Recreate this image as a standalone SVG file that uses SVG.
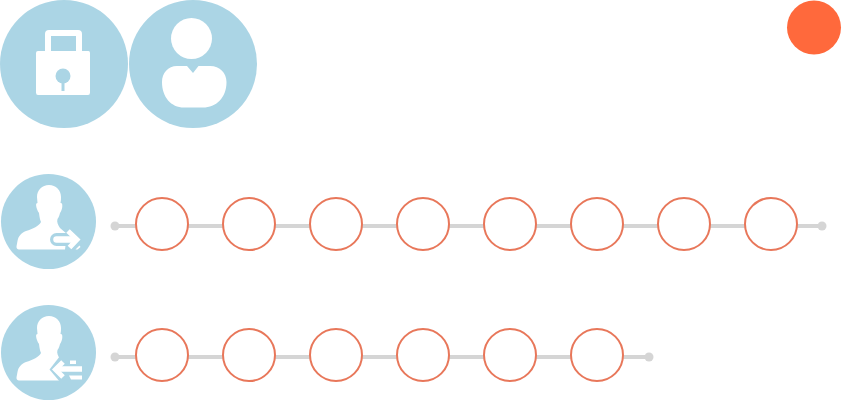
<svg xmlns="http://www.w3.org/2000/svg" width="842" height="400" viewBox="0 0 842 400">
<defs>
<style>
.bg{fill:#abd5e5}
.w{fill:#fff}
.track{stroke:#d5d5d5;stroke-width:4;fill:none}
.dot{fill:#d5d5d5}
.step{fill:#fff;stroke:#e8775a;stroke-width:2}
.ol{fill:none;stroke:#abd5e5;stroke-linejoin:round}
.ln{fill:none;stroke:#fff;stroke-linejoin:miter}
</style>
<path id="person" class="w" d="M49 185C42 185 37 190 37 197C37 199 37.500 201 37.500 203C35.500 203 36 206 37 209C37.500 211 38.500 212 39 213C39.500 217 40 220 41 222C39 226 33 229 26 231C21 233 18.500 236 17.500 241C17 244 16.500 246 16.500 247C16.500 248.500 17.500 249.500 19 249.500L65 249.500L67 234L60 228C58 225 56.500 222 57.500 219C59 217 59.500 215 60 213C61.500 211 63 207 62 203.500C61 203 60.500 203 60.500 203C61 201 61 199 61 197C61 190 56 185 49 185Z"/>
</defs>
<g id="connectors">
<path class="track" d="M115 226H822"/>
<path class="track" d="M115 357H649"/>
</g>
<g id="lock-icon">
<circle class="bg" cx="64" cy="64" r="64"/>
<path class="w" fill-rule="evenodd" d="M38 51H45V34Q45 30 49 30H78Q82 30 82 34V51H88.500Q90 51 90 53V92.500Q90 95 88 95H38Q36 95 36 92.500V53Q36 51 38 51ZM51 51H76V36H51Z"/>
<circle class="bg" cx="63" cy="76" r="7.500"/>
<rect class="bg" x="61.500" y="78" width="3" height="13"/>
</g>
<g id="user-icon">
<circle class="bg" cx="193" cy="64" r="64"/>
<circle class="w" cx="191.500" cy="38.500" r="20.500"/>
<path class="w" d="M177 66H187L193 73L198.500 66H210C220 66 226.500 73 226.500 82C226.500 98 216 107.500 203 107.500H184C171 107.500 162 97 162 82C162 73 168 66 177 66Z"/>
</g>
<g id="status-dot"><circle cx="814" cy="27.500" r="27" fill="#ff693c"/></g>
<g id="outgoing-icon">
<circle class="bg" cx="48.500" cy="221.500" r="47.500"/>
<use href="#person"/>
<path class="ol" stroke-width="13" stroke-linecap="round" d="M56.500 239.500H72"/>
<path class="ol" stroke-width="9" d="M68 231L77 239.500L69.500 247.500"/>
<path class="ln" stroke-width="6.500" stroke-linecap="round" d="M56.500 239.500H74"/>
<path class="ln" stroke-width="5" d="M68 231L77 239.500L69.500 247.500"/>
<path class="w" d="M75.500 249.500L79.500 245.500L80.500 247L77.500 249.500Z"/>
</g>
<g id="incoming-icon">
<circle class="bg" cx="48.500" cy="352.500" r="47.500"/>
<use href="#person" y="131"/>
<path class="bg" d="M60 356H84V382H60L49.500 369.500Z"/>
<path class="ln" stroke-width="5" d="M63 362L55.500 369.500L63 377"/>
<path class="ln" stroke-width="5.500" d="M58 369H82"/>
<path class="w" d="M70 360.500H76V364H70Z"/>
<path class="w" d="M69 375.500H82V379.500H71Z"/>
</g>
<g id="row-1-start"><circle class="dot" cx="115" cy="226" r="4.500"/></g>
<g id="row-1-end"><circle class="dot" cx="822" cy="226" r="4.500"/></g>
<g id="row-2-start"><circle class="dot" cx="115" cy="357" r="4.500"/></g>
<g id="row-2-end"><circle class="dot" cx="649" cy="357" r="4.500"/></g>
<g id="r1-1"><circle class="step" cx="162" cy="224" r="26"/></g>
<g id="r1-2"><circle class="step" cx="249" cy="224" r="26"/></g>
<g id="r1-3"><circle class="step" cx="336" cy="224" r="26"/></g>
<g id="r1-4"><circle class="step" cx="423" cy="224" r="26"/></g>
<g id="r1-5"><circle class="step" cx="510" cy="224" r="26"/></g>
<g id="r1-6"><circle class="step" cx="597" cy="224" r="26"/></g>
<g id="r1-7"><circle class="step" cx="684" cy="224" r="26"/></g>
<g id="r1-8"><circle class="step" cx="771" cy="224" r="26"/></g>
<g id="r2-1"><circle class="step" cx="162" cy="355" r="26"/></g>
<g id="r2-2"><circle class="step" cx="249" cy="355" r="26"/></g>
<g id="r2-3"><circle class="step" cx="336" cy="355" r="26"/></g>
<g id="r2-4"><circle class="step" cx="423" cy="355" r="26"/></g>
<g id="r2-5"><circle class="step" cx="510" cy="355" r="26"/></g>
<g id="r2-6"><circle class="step" cx="597" cy="355" r="26"/></g>
</svg>
